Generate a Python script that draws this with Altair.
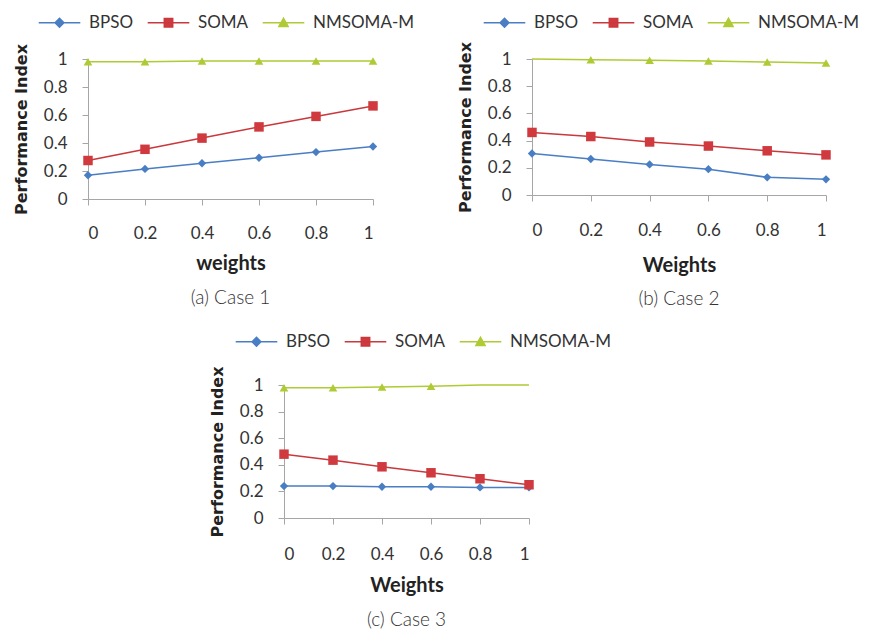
import altair as alt
import pandas as pd

# ---------------- data ----------------
weights = [0, 0.2, 0.4, 0.6, 0.8, 1]
series_names = ["BPSO", "SOMA", "NMSOMA-M"]

case1_bpso = [0.17, 0.215, 0.255, 0.295, 0.335, 0.375]
case1_soma = [0.275, 0.355, 0.435, 0.515, 0.59, 0.665]
case1_nm = [0.98, 0.98, 0.985, 0.985, 0.985, 0.985]
case1_nm_marker = [1, 1, 1, 1, 1, 1]

case2_bpso = [0.305, 0.265, 0.225, 0.19, 0.13, 0.115]
case2_soma = [0.46, 0.43, 0.39, 0.36, 0.325, 0.295]
case2_nm = [1.0, 0.995, 0.99, 0.985, 0.978, 0.97]
case2_nm_marker = [0, 1, 1, 1, 1, 1]

case3_bpso = [0.24, 0.24, 0.235, 0.235, 0.23, 0.23]
case3_soma = [0.48, 0.435, 0.385, 0.34, 0.295, 0.25]
case3_nm = [0.98, 0.98, 0.985, 0.99, 1.0, 1.0]
case3_nm_marker = [1, 1, 1, 1, 0, 0]

tick_values = [0, 0.2, 0.4, 0.6, 0.8, 1]

# ---------------- style ----------------
colors = ["#4A7EC4", "#D03A3E", "#AECB35"]
line_colors = ["#4A7EC4", "#C8383C", "#AECB35"]
marker_shapes = ["diamond", "square", "triangle-up"]
marker_sizes = [70, 90, 75]
legend_paths = [
    "M-5.2,0H5.2M0,-1.1L1.1,0L0,1.1L-1.1,0Z",
    "M-5.2,0H5.2M-1.05,-1.05H1.05V1.05H-1.05Z",
    "M-5.2,0H5.2M0,-1.1L1.15,0.95H-1.15Z",
]
FONT = "Lato"


def make_df(bpso, soma, nm, nm_marker):
    rows = []
    for si, (name, vals) in enumerate(zip(series_names, [bpso, soma, nm])):
        for i, (w, v) in enumerate(zip(weights, vals)):
            show = nm_marker[i] if name == "NMSOMA-M" else 1
            rows.append({
                "weight": w, "value": v, "series": name, "order": si,
                "lcol": line_colors[si], "mcol": colors[si],
                "shp": marker_shapes[si], "sz": marker_sizes[si], "show": show,
            })
    return pd.DataFrame(rows)


def make_panel(bpso, soma, nm, nm_marker, xtitle, caption, width, height,
               legend_x, legend_y, x_label_pad, x_title_pad, cap_offset):
    df = make_df(bpso, soma, nm, nm_marker)
    x = alt.X("weight:Q", scale=alt.Scale(domain=[0, 1], nice=False, zero=False),
              axis=alt.Axis(values=tick_values, format="~g", title=xtitle,
                            labelPadding=x_label_pad, titlePadding=x_title_pad, tickSize=6))
    y = alt.Y("value:Q", scale=alt.Scale(domain=[0, 1], nice=False),
              axis=alt.Axis(values=tick_values, format="~g", title="Performance Index",
                            titleFont="DejaVu Sans", titleFontSize=16,
                            labelPadding=15, titlePadding=14, tickSize=6))
    lines = alt.Chart(df).mark_line(strokeWidth=1.5).encode(
        x=x, y=y,
        color=alt.Color("lcol:N", scale=None),
        detail="series:N",
        order="weight:Q",
    )
    points = alt.Chart(df).transform_filter("datum.show == 1").mark_point(
        filled=True, opacity=1, strokeWidth=0.5
    ).encode(
        x=x, y=y,
        color=alt.Color("mcol:N", scale=None),
        shape=alt.Shape("shp:N", scale=None),
        size=alt.Size("sz:Q", scale=None),
    )
    leg = alt.Legend(
        title=None, orient="none", direction="horizontal",
        legendX=legend_x, legendY=legend_y,
        labelFont=FONT, labelFontSize=17, labelColor="#333333",
        symbolSize=64, symbolStrokeWidth=1.5, symbolOpacity=1,
        labelOffset=21, columnPadding=10, padding=0,
    )
    legend_df = pd.DataFrame({"series": series_names})
    legend_layer = alt.Chart(legend_df).mark_point(clip=True, opacity=1).encode(
        x=alt.value(0), y=alt.value(-400),
        fill=alt.Fill("series:N", scale=alt.Scale(domain=series_names, range=colors),
                      legend=leg, sort=series_names),
        stroke=alt.Stroke("series:N", scale=alt.Scale(domain=series_names, range=line_colors),
                          legend=leg, sort=series_names),
        shape=alt.Shape("series:N", scale=alt.Scale(domain=series_names, range=legend_paths),
                        legend=leg, sort=series_names),
    )
    return alt.layer(lines, points, legend_layer).properties(
        width=width, height=height,
        title=alt.TitleParams(caption, orient="bottom", font=FONT, fontSize=19,
                              fontWeight=300, color="#333333", offset=cap_offset),
    )


def independent(c):
    return c.resolve_scale(fill="independent", stroke="independent", shape="independent") \
            .resolve_legend(fill="independent", stroke="independent", shape="independent")


pa = make_panel(case1_bpso, case1_soma, case1_nm, case1_nm_marker, "weights",
                "(a) Case 1", 285, 140, -37, -45, 20, 12, 16)
pb = make_panel(case2_bpso, case2_soma, case2_nm, case2_nm_marker, "Weights",
                "(b) Case 2", 294, 136, -36, -45, 21, 17, 15)
pc = make_panel(case3_bpso, case3_soma, case3_nm, case3_nm_marker, "Weights",
                "(c) Case 3", 245, 133, -36, -52, 22, 13, 16)

spacer = alt.Chart(pd.DataFrame({"v": [0]})).mark_point(opacity=0).encode(
    x=alt.X("v:Q", axis=None), y=alt.Y("v:Q", axis=None)
).properties(width=121, height=10)

row1 = independent(alt.hconcat(pa, pb, spacing=43))
row2 = independent(alt.hconcat(spacer, pc, spacing=0))

chart = independent(alt.vconcat(row1, row2, spacing=24)).properties(
    padding={"left": 5, "top": 6, "right": 0, "bottom": 0},
).configure_view(stroke=None).configure_axis(
    grid=False,
    domainColor="#A6A6A6", tickColor="#A6A6A6", domainWidth=1, tickWidth=1,
    labelFont=FONT, labelFontSize=17, labelColor="#333333",
    titleFont=FONT, titleFontSize=20, titleFontWeight="bold", titleColor="#222222",
)

chart.save("out.html", embed_options={"renderer": "svg", "actions": False})
